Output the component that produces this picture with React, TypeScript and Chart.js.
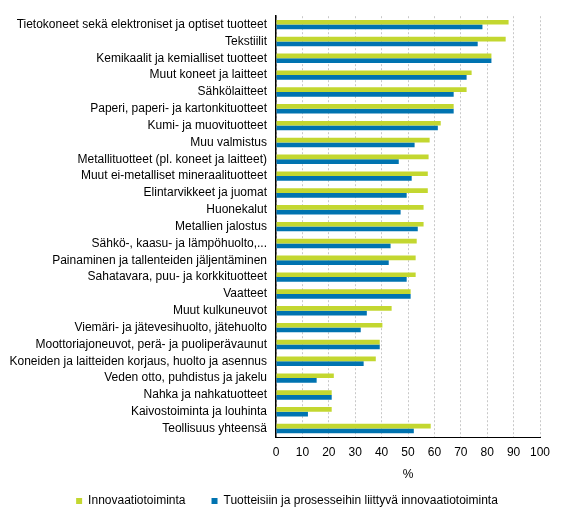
import React, { useEffect, useRef } from "react";
import { Chart, registerables } from "chart.js";

Chart.register(...registerables);

const categories = [
  "Tietokoneet sekä elektroniset ja optiset tuotteet",
  "Tekstiilit",
  "Kemikaalit ja kemialliset tuotteet",
  "Muut koneet ja laitteet",
  "Sähkölaitteet",
  "Paperi, paperi- ja kartonkituotteet",
  "Kumi- ja muovituotteet",
  "Muu valmistus",
  "Metallituotteet (pl. koneet ja laitteet)",
  "Muut ei-metalliset mineraalituotteet",
  "Elintarvikkeet ja juomat",
  "Huonekalut",
  "Metallien jalostus",
  "Sähkö-, kaasu- ja lämpöhuolto,...",
  "Painaminen ja tallenteiden jäljentäminen",
  "Sahatavara, puu- ja korkkituotteet",
  "Vaatteet",
  "Muut kulkuneuvot",
  "Viemäri- ja jätevesihuolto, jätehuolto",
  "Moottoriajoneuvot, perä- ja puoliperävaunut",
  "Koneiden ja laitteiden korjaus, huolto ja asennus",
  "Veden otto, puhdistus ja jakelu",
  "Nahka ja nahkatuotteet",
  "Kaivostoiminta ja louhinta",
  "Teollisuus yhteensä",
];

const innovaatio = [
  88.1, 87.0, 81.6, 74.1, 72.2, 67.3, 62.4, 58.2, 57.8, 57.5, 57.5, 55.9, 55.9,
  53.3, 52.9, 52.9, 51.0, 43.8, 40.3, 39.3, 37.8, 21.9, 21.1, 21.1, 58.6,
];

const tuoteProsessi = [
  78.2, 76.4, 81.6, 72.2, 67.3, 67.3, 61.3, 52.5, 46.5, 51.4, 49.5, 47.2, 53.7,
  43.4, 42.7, 49.5, 51.0, 34.4, 32.1, 39.3, 33.2, 15.4, 21.1, 12.1, 52.2,
];

const seriesNames = ["Innovaatiotoiminta", "Tuotteisiin ja prosesseihin liittyvä innovaatiotoiminta"];
const xTicks = [0, 10, 20, 30, 40, 50, 60, 70, 80, 90, 100];

const legendShiftPlugin = {
  id: "legendShift",
  afterLayout(chart: any) {
    if (chart.legend) {
      chart.legend.left += 17;
      chart.legend.right += 17;
    }
  },
};

export default function App() {
  const ref = useRef<HTMLCanvasElement | null>(null);

  useEffect(() => {
    if (!ref.current) return;
    const font = { family: "'Liberation Sans', Arial, sans-serif", size: 12 };
    const chart = new Chart(ref.current, {
      type: "bar",
      data: {
        labels: categories,
        datasets: [
          {
            label: seriesNames[0],
            data: innovaatio,
            backgroundColor: "#c3d730",
            categoryPercentage: 0.56,
            barPercentage: 1,
          },
          {
            label: seriesNames[1],
            data: tuoteProsessi,
            backgroundColor: "#0073b0",
            categoryPercentage: 0.56,
            barPercentage: 1,
          },
        ],
      },
      plugins: [legendShiftPlugin],
      options: {
        indexAxis: "y",
        animation: false,
        responsive: false,
        maintainAspectRatio: false,
        layout: { padding: { top: 15, right: 25, left: 0, bottom: 4 } },
        plugins: {
          tooltip: { enabled: false },
          legend: {
            position: "bottom",
            labels: {
              font,
              color: "#000",
              boxWidth: 6,
              boxHeight: 6,
              padding: 26,
            },
          },
        },
        scales: {
          x: {
            min: 0,
            max: 100,
            afterBuildTicks: (scale: any) => {
              scale.ticks = xTicks.map((v) => ({ value: v }));
            },
            ticks: { font, color: "#000", padding: 8, maxRotation: 0 },
            grid: {
              color: "#c8c8c8",
              drawTicks: false,
              lineWidth: 1,
            },
            border: { display: true, color: "#000", width: 1, dash: [2, 2] },
            title: {
              display: true,
              text: "%",
              font,
              color: "#000",
              padding: { top: 7, bottom: -13 },
            },
            afterFit: (scale: any) => {
              scale.height = 32;
            },
          },
          y: {
            ticks: { font, color: "#000", padding: 9, autoSkip: false },
            grid: { display: false, drawTicks: false },
            border: { display: true, color: "#000", width: 1.5 },
            afterFit: (scale: any) => {
              scale.width = 276;
            },
          },
        },
      },
    });
    return () => chart.destroy();
  }, []);

  return (
    <div style={{ position: "absolute", left: 0, top: 0, width: 565, height: 521 }}>
      <canvas ref={ref} width={565} height={521} style={{ width: 565, height: 521 }} />
    </div>
  );
}
